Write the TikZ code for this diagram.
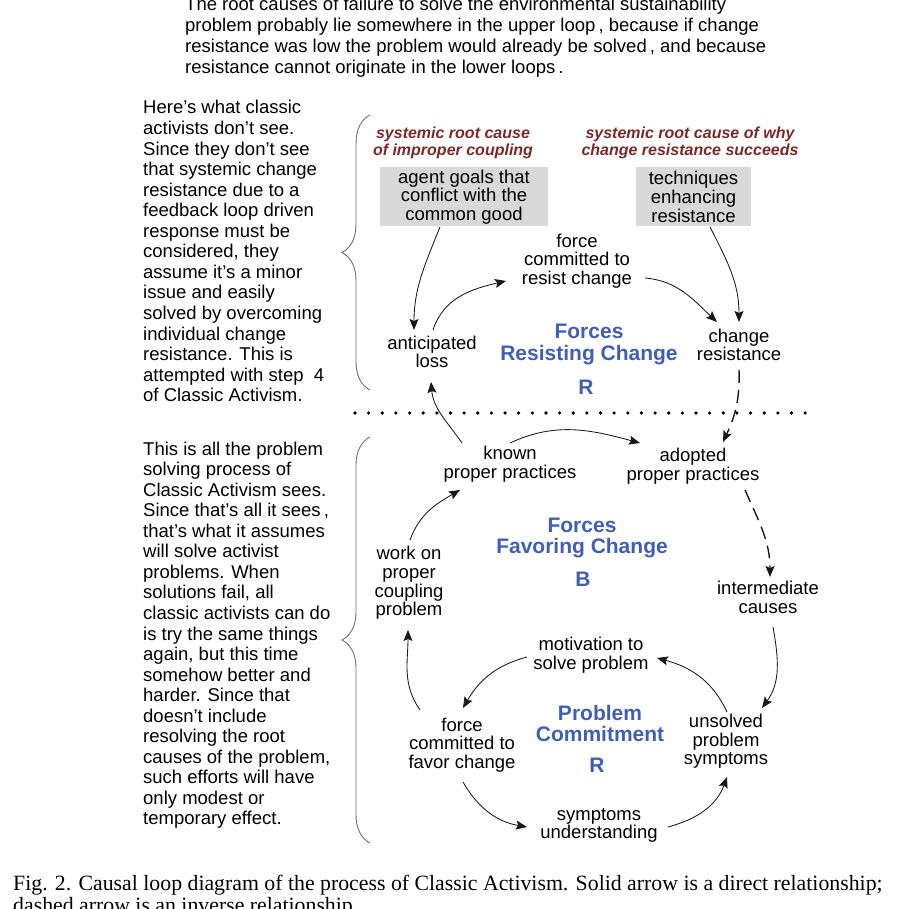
\documentclass[tikz,border=0pt]{standalone}
\usepackage{fontspec}
\setmainfont{Liberation Sans}
\newfontfamily\captionserif{Liberation Serif}
\usetikzlibrary{arrows.meta, decorations.pathreplacing}
\definecolor{loopblue}{RGB}{64,94,180}
\definecolor{rootred}{RGB}{125,40,40}
\definecolor{boxgray}{RGB}{217,217,217}
\definecolor{bracegray}{RGB}{110,110,110}

\begin{document}
\begin{tikzpicture}[x=1pt,y=1pt,
    txt/.style={align=center, inner sep=1pt, font=\fontsize{18.5}{18.7}\selectfont},
    gbox/.style={txt, fill=boxgray, minimum height=59pt},
    rootcause/.style={align=center, inner sep=1pt, text=rootred, font=\fontsize{16}{17}\selectfont\bfseries\itshape},
    loopname/.style={align=center, inner sep=1pt, text=loopblue, font=\fontsize{21}{21.5}\selectfont\bfseries},
    side/.style={align=left, anchor=base west, inner sep=0pt, font=\fontsize{18.5}{20.55}\selectfont},
    arr/.style={line width=0.85pt, draw=black!90, -{Stealth[length=11pt,width=9pt,inset=2pt]}},
    dsh/.style={line width=1.4pt, dash pattern=on 13pt off 7pt},
    brc/.style={draw=bracegray, line width=0.9pt, decorate, decoration={brace, amplitude=28pt}}]
    \useasboundingbox (0,0) rectangle (899,909);

    % note at the top, cut by the page edge (base = last line)
    \node[side, font=\fontsize{18.5}{21}\selectfont] (topnote) at (185,835.3) {The root causes of failure to solve the environmental sustainability\\
        problem probably lie somewhere in the upper loop\,, because if change\\
        resistance was low the problem would already be solved\,, and because\\
        resistance cannot originate in the lower loops\,.};

    % side comments with their braces
    \node[side] (seenot) at (143,507.3) {Here’s what classic\\activists don’t see.\\Since they don’t see\\that systemic change\\resistance due to a\\feedback loop driven\\response must be\\considered, they\\assume it’s a minor\\issue and easily\\solved by overcoming\\individual change\\resistance. This is\\attempted with step\ \ 4\\of Classic Activism.};
    \node[side] (seeall) at (143,84) {This is all the problem\\solving process of\\Classic Activism sees.\\Since that’s all it sees\,,\\that’s what it assumes\\will solve activist\\problems. When\\solutions fail, all\\classic activists can do\\is try the same things\\again, but this time\\somehow better and\\harder. Since that\\doesn’t include\\resolving the root\\causes of the problem,\\such efforts will have\\only modest or\\temporary effect.};
    \draw[brc] (370,519) -- (370,794);
    \draw[brc] (370,66) -- (370,472);

    % upper loop: forces resisting change
    \node[rootcause] (rootA) at (453,766.5) {systemic root cause\\of improper coupling};
    \node[rootcause] (rootB) at (690,766.5) {systemic root cause of why\\change resistance succeeds};
    \node[gbox, minimum width=168pt] (agent) at (464,712) {agent goals that\\conflict with the\\common good};
    \node[gbox, minimum width=115pt] (tech) at (693.5,712) {techniques\\enhancing\\resistance};
    \node[txt] (resist) at (577,648) {force\\committed to\\resist change};
    \node[txt] (loss) at (432,557) {anticipated\\loss};
    \node[txt] (chres) at (739,564) {change\\resistance};
    \node[loopname] (frc) at (589,564.5) {Forces\\Resisting Change};
    \node[loopname] (rA) at (586,522) {R};

    % border between what is seen and what is not
    \draw[line width=3.6pt, line cap=round, dash pattern=on 0pt off 13.64pt] (355,496) -- (806,496);

    % middle loop: forces favoring change
    \node[txt] (known) at (510,444.5) {known\\proper practices};
    \node[txt] (adopted) at (693,443) {adopted\\proper practices};
    \node[loopname] (ffc) at (582,371) {Forces\\Favoring Change};
    \node[loopname] (rB) at (583,330) {B};
    \node[txt] (work) at (409,326) {work on\\proper\\coupling\\problem};
    \node[txt] (inter) at (768,311.5) {intermediate\\causes};

    % lower loop: problem commitment
    \node[txt] (motiv) at (591,253.5) {motivation to\\solve problem};
    \node[loopname] (pc) at (600,185.5) {Problem\\Commitment};
    \node[loopname] (rC) at (597,144) {R};
    \node[txt] (favor) at (462,164) {force\\committed to\\favor change};
    \node[txt] (unsolved) at (726,167.5) {unsolved\\problem\\symptoms};
    \node[txt] (sympt) at (599,83.5) {symptoms\\understanding};

    % links
    \draw[arr] ([shift={(-24,-30)}]agent.center) to[out=-112,in=90] ([shift={(-18,22)}]loss.center);
    \draw[arr] ([shift={(1,22)}]loss.center) to[out=72,in=193] ([shift={(-71,-20)}]resist.center);
    \draw[arr] ([shift={(68,-17)}]resist.center) to[out=-5,in=137] ([shift={(-22,23)}]chres.center);
    \draw[arr] ([shift={(16.5,-30)}]tech.center) to[out=-63,in=90] ([shift={(0,23)}]chres.center);
    \draw[arr, dsh] ([shift={(0,-25)}]chres.center) to[out=-88,in=65] ([shift={(30,24)}]adopted.center);
    \draw[arr] ([shift={(-48,21.5)}]known.center) to[out=125,in=-85] ([shift={(-1,-30)}]loss.center);
    \draw[arr] ([shift={(0,21.5)}]known.center) to[out=25,in=165] ([shift={(-53,23)}]adopted.center);
    \draw[arr, dsh] ([shift={(52,-24)}]adopted.center) to[out=-66,in=90] ([shift={(2,20.5)}]inter.center);
    \draw[arr] ([shift={(5,-29.5)}]inter.center) to[out=-80,in=54] ([shift={(36,33.5)}]unsolved.center);
    \draw[arr] ([shift={(1,29.5)}]unsolved.center) to[out=115,in=-15] ([shift={(66,-2.5)}]motiv.center);
    \draw[arr] ([shift={(-64,-1.5)}]motiv.center) to[out=195,in=60] ([shift={(1,37)}]favor.center);
    \draw[arr] ([shift={(-42,35)}]favor.center) to[out=125,in=-90] ([shift={(-1,-47)}]work.center);
    \draw[arr] ([shift={(1,43)}]work.center) to[out=70,in=210] ([shift={(-50,-25.5)}]known.center);
    \draw[arr] ([shift={(1,-37)}]favor.center) to[out=-60,in=170] ([shift={(-72,-1.5)}]sympt.center);
    \draw[arr] ([shift={(69,-1.5)}]sympt.center) to[out=15,in=-110] ([shift={(1,-35.5)}]unsolved.center);

    % caption, cut by the page edge (base = last line)
    \node[side, font=\captionserif\fontsize{21.8}{21}\selectfont] (caption) at (13,-3) {Fig. 2. Causal loop diagram of the process of Classic Activism. Solid arrow is a direct relationship;\\dashed arrow is an inverse relationship.};
\end{tikzpicture}
\end{document}
